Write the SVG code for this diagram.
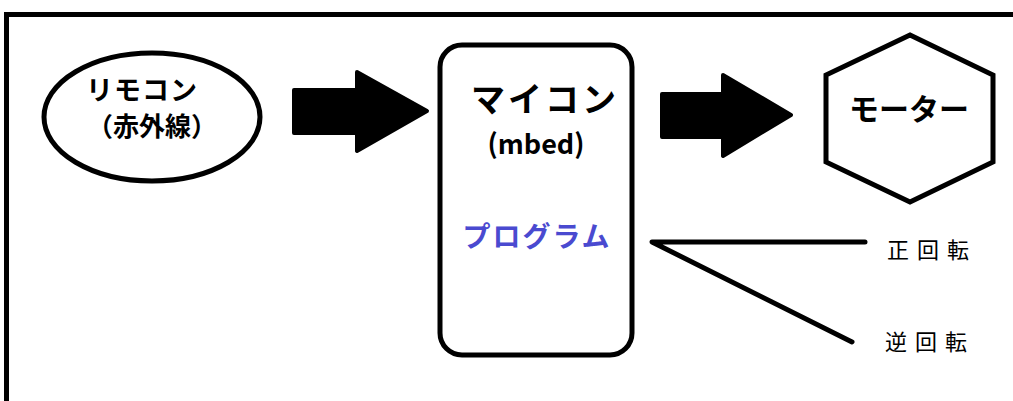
<svg xmlns="http://www.w3.org/2000/svg" width="1013" height="401" viewBox="0 0 1013 401">
<style>
.ln{fill:none;stroke:#000;stroke-width:5}
.jp{font-family:"Noto Sans CJK JP","Noto Sans",sans-serif;font-weight:bold;fill:#000;text-anchor:middle}
.lbl{font-family:"Noto Sans CJK JP",sans-serif;font-weight:normal;font-size:22px;fill:#000;letter-spacing:8px}
.arr{fill:#000;stroke:#000;stroke-width:4;stroke-linejoin:round}
</style>
<rect x="0" y="0" width="1013" height="401" fill="#fff"/>
<path d="M6.5,401 V14.5 H1013" class="ln"/>
<g id="remote">
<ellipse cx="152" cy="117" rx="108" ry="64" class="ln" stroke-width="4"/>
<text x="142" y="100" class="jp" font-size="27" letter-spacing="1">リモコン</text>
<text x="152" y="136" class="jp" font-size="26">（赤外線）</text>
</g>
<g id="mcu">
<rect x="440" y="45" width="192" height="310" rx="22" class="ln"/>
<text x="545" y="112" class="jp" font-size="34" letter-spacing="3">マイコン</text>
<text x="536" y="154" class="jp" font-size="27" font-family="'DejaVu Sans Mono',monospace">(mbed)</text>
<text x="537" y="247" class="jp" font-size="28" letter-spacing="2" style="fill:#4a4ad0">プログラム</text>
</g>
<g id="motor">
<polygon points="910,35 993,75 993,162 910,202 826,162 826,75" class="ln"/>
<text x="909" y="120" class="jp" font-size="30">モーター</text>
</g>
<g id="connectors">
<polygon points="294,90 357,90 357,72 427,111 357,151 357,133 294,133" class="arr"/>
<polygon points="662,94 723,94 723,75 791,115 723,156 723,137 662,137" class="arr"/>
<polyline points="865,242 652,242 852,342" fill="none" stroke="#000" stroke-width="5" stroke-linecap="round" stroke-linejoin="round"/>
</g>
<g id="labels">
<text x="887" y="258" class="lbl">正回転</text>
<text x="885" y="350" class="lbl">逆回転</text>
</g>
</svg>
